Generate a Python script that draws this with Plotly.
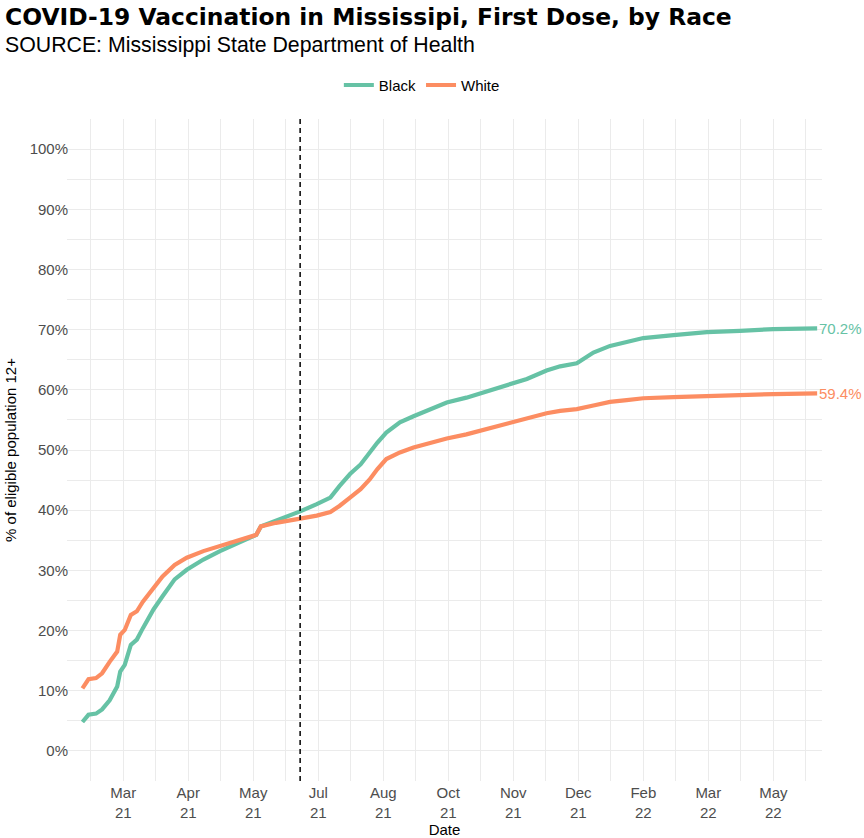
import pandas as pd
import plotly.graph_objects as go

dates = ["2021-02-02", "2021-02-06", "2021-02-11", "2021-02-15", "2021-02-20", "2021-02-25",
         "2021-02-27", "2021-03-02", "2021-03-06", "2021-03-10", "2021-03-14", "2021-03-21",
         "2021-03-27", "2021-04-04", "2021-04-12", "2021-04-23", "2021-05-04", "2021-05-15",
         "2021-05-28", "2021-05-31", "2021-06-10", "2021-06-26", "2021-07-07", "2021-07-16",
         "2021-07-22", "2021-07-29", "2021-08-05", "2021-08-11", "2021-08-16", "2021-08-22",
         "2021-08-31", "2021-09-09", "2021-09-20", "2021-10-01", "2021-10-14", "2021-10-27",
         "2021-11-10", "2021-11-23", "2021-12-06", "2021-12-15", "2021-12-26", "2022-01-06",
         "2022-01-17", "2022-01-28", "2022-02-08", "2022-02-28", "2022-03-22", "2022-04-13",
         "2022-05-05", "2022-06-03"]
black = [4.8, 6.0, 6.2, 6.9, 8.4, 10.7, 13.2, 14.3, 17.6, 18.5, 20.4, 23.5, 25.7, 28.5, 30.1,
         31.8, 33.2, 34.4, 35.9, 37.3, 38.2, 39.8, 41.0, 42.1, 44.0, 46.0, 47.6, 49.6, 51.2,
         52.9, 54.6, 55.6, 56.8, 57.9, 58.7, 59.7, 60.7, 61.8, 63.2, 63.9, 64.4, 66.2, 67.3,
         68.0, 68.6, 69.1, 69.6, 69.8, 70.1, 70.2]
white = [10.4, 11.9, 12.1, 12.9, 14.8, 16.5, 19.3, 20.1, 22.6, 23.2, 24.8, 27.1, 29.0, 30.9,
         32.1, 33.2, 34.1, 35.0, 35.9, 37.3, 37.9, 38.6, 39.1, 39.7, 40.7, 42.1, 43.5, 45.1,
         46.8, 48.5, 49.6, 50.4, 51.2, 51.9, 52.6, 53.5, 54.3, 55.2, 56.1, 56.5, 56.8, 57.4,
         58.0, 58.3, 58.6, 58.8, 59.0, 59.2, 59.3, 59.4]

x_ticks = pd.date_range("2021-03-01", periods=11, freq="43D")
x_minor = pd.date_range("2021-02-07 12:00", periods=12, freq="43D")
x_labels = ["Mar<br>21", "Apr<br>21", "May<br>21", "Jul<br>21", "Aug<br>21", "Oct<br>21",
            "Nov<br>21", "Dec<br>21", "Feb<br>22", "Mar<br>22", "May<br>22"]
y_ticks = list(range(0, 101, 10))
y_labels = [f"{v}%" for v in y_ticks]
y_minor = list(range(-5, 106, 10))
cutoff = "2021-06-26"

colors = {"Black": "#66C2A5", "White": "#FC8D62"}
font = "Liberation Sans, Arial, sans-serif"

fig = go.Figure()
for name, vals in [("Black", black), ("White", white)]:
    fig.add_trace(go.Scatter(x=pd.to_datetime(dates), y=vals, mode="lines", name=name,
                             line=dict(color=colors[name], width=4.2)))
    fig.add_annotation(x=pd.to_datetime(dates[-1]), y=vals[-1], text=f"{vals[-1]:.1f}%",
                       showarrow=False, xanchor="left", xshift=0,
                       font=dict(color=colors[name], size=15, family=font))

fig.add_shape(type="line", x0=cutoff, x1=cutoff, y0=0, y1=1, xref="x", yref="paper",
              line=dict(color="black", width=1.5, dash="5px,4px"))

# title + subtitle, left aligned to the figure edge
fig.add_annotation(text="<b>COVID-19 Vaccination in Mississipi, First Dose, by Race</b>",
                   xref="paper", yref="paper", x=-0.0848, y=1.1541, xanchor="left", yanchor="middle",
                   showarrow=False, font=dict(size=23.4, color="black", family="DejaVu Sans"))
fig.add_annotation(text="SOURCE: Mississippi State Department of Health", xref="paper", yref="paper",
                   x=-0.0848, y=1.1118, xanchor="left", yanchor="middle", showarrow=False,
                   font=dict(size=21.3, color="black", family=font))

fig.update_layout(
    width=864, height=838,
    margin=dict(l=67, r=42, t=119, b=57),
    plot_bgcolor="white", paper_bgcolor="white",
    font=dict(family=font, color="black"),
    legend=dict(orientation="h", x=0.47, xanchor="center", y=1.051, yanchor="middle",
                font=dict(size=15, color="black"), bgcolor="rgba(0,0,0,0)"),
    showlegend=True,
)
fig.update_xaxes(type="date", range=["2021-01-22 19:00", "2022-06-06 05:00"], automargin=False,
                 tickmode="array", tickvals=x_ticks, ticktext=x_labels, ticklabelstandoff=1,
                 tickfont=dict(size=15, color="#4D4D4D"), showline=False, zeroline=False,
                 showgrid=True, gridcolor="#EBEBEB", gridwidth=1.1,
                 minor=dict(tickmode="array", tickvals=x_minor, showgrid=True,
                            gridcolor="#EBEBEB", gridwidth=0.6),
                 title=dict(text="Date", font=dict(size=15, color="black"), standoff=4))
fig.update_yaxes(range=[-5, 105], automargin=False, tickmode="array", tickvals=y_ticks,
                 ticktext=y_labels, ticklabelstandoff=-2,
                 tickfont=dict(size=15, color="#4D4D4D"), showline=False, zeroline=False,
                 showgrid=True, gridcolor="#EBEBEB", gridwidth=1.1,
                 minor=dict(tickmode="array", tickvals=y_minor, showgrid=True,
                            gridcolor="#EBEBEB", gridwidth=0.6),
                 title=dict(text="% of eligible population 12+", font=dict(size=15, color="black"),
                            standoff=9))

# page body has an 8px default margin; drop it so the figure fills the window
fig.write_html("out.html", config={"displayModeBar": False},
               post_script="document.body.style.margin='0';")
